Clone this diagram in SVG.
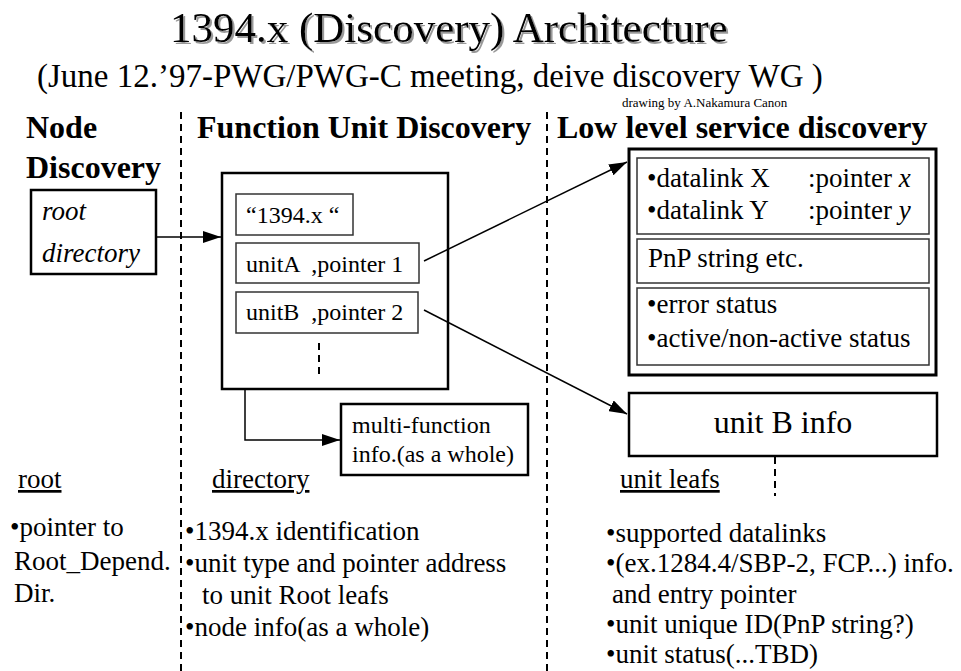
<svg xmlns="http://www.w3.org/2000/svg" width="961" height="671" viewBox="0 0 961 671">
<defs>
<marker id="ah" markerWidth="18" markerHeight="12" refX="18" refY="6" orient="auto" markerUnits="userSpaceOnUse">
<path d="M0,0 L18,6 L0,12 Z" fill="#000"/>
</marker>
<filter id="shadow" x="-5%" y="-20%" width="110%" height="150%">
<feOffset in="SourceAlpha" dx="2" dy="2" result="o"/>
<feFlood flood-color="#999"/>
<feComposite in2="o" operator="in" result="s"/>
<feMerge><feMergeNode in="s"/><feMergeNode in="SourceGraphic"/></feMerge>
</filter>
<style>
text{font-family:"Liberation Serif","Times New Roman",serif;fill:#000}
.t{font-size:43px}
.sub{font-size:33px}
.h{font-size:32px;font-weight:bold}
.b{font-size:27px}
.s{font-size:24px}
.i{font-style:italic}
.u{text-decoration:underline}
.box{fill:#fff;stroke:#000;stroke-width:2.5}
.in{fill:#fff;stroke:#333;stroke-width:1.5}
.dash{stroke:#000;stroke-width:2;stroke-dasharray:7 5;fill:none}
.c{stroke:#000;stroke-width:1.5;fill:none}
</style>
</defs>
<rect width="961" height="671" fill="#fff"/>
<g id="title">
<text class="t" x="170" y="42" filter="url(#shadow)">1394.x (Discovery) Architecture</text>
<text class="sub" x="37" y="87">(June 12.’97-PWG/PWG-C meeting, deive discovery WG )</text>
<text x="622" y="107" style="font-size:13px">drawing by A.Nakamura Canon</text>
</g>
<g id="headers">
<text class="h" x="26" y="138">Node</text>
<text class="h" x="26" y="178">Discovery</text>
<text class="h" x="197" y="138">Function Unit Discovery</text>
<text class="h" x="557" y="138">Low level service discovery</text>
</g>
<g id="separators">
<line class="dash" x1="181" y1="112" x2="181" y2="671"/>
<line class="dash" x1="547" y1="112" x2="547" y2="671"/>
</g>
<g id="root-directory">
<rect class="box" x="31" y="190" width="125" height="84"/>
<text class="b i" x="42" y="220">root</text>
<text class="b i" x="42" y="262">directory</text>
</g>
<g id="function-unit">
<rect class="box" x="222" y="173" width="226" height="216"/>
<g id="fu-1394">
<rect class="in" x="236" y="194" width="117" height="41"/>
<text class="s" x="246" y="223">“1394.x “</text>
</g>
<g id="fu-unitA">
<rect class="in" x="236" y="243" width="183" height="40"/>
<text class="s" x="246" y="272" xml:space="preserve">unitA  ,pointer 1</text>
</g>
<g id="fu-unitB">
<rect class="in" x="236" y="292" width="182" height="41"/>
<text class="s" x="246" y="320" xml:space="preserve">unitB  ,pointer 2</text>
</g>
<line class="dash" x1="319" y1="343" x2="319" y2="376"/>
</g>
<g id="multi-function">
<rect class="box" x="341" y="404" width="187" height="71"/>
<text class="s" x="352" y="433">multi-function</text>
<text class="s" x="352" y="462">info.(as a whole)</text>
</g>
<g id="low-level">
<rect x="629" y="149" width="307" height="226" fill="#fff" stroke="#000" stroke-width="3"/>
<rect class="in" x="637" y="158" width="292" height="76"/>
<text class="b" x="647" y="187">•datalink X</text>
<text class="b" x="808" y="187">:pointer <tspan class="i">x</tspan></text>
<text class="b" x="647" y="219">•datalink Y</text>
<text class="b" x="808" y="219">:pointer <tspan class="i">y</tspan></text>
<rect class="in" x="637" y="239" width="292" height="44"/>
<text class="b" x="648" y="267">PnP string etc.</text>
<rect class="in" x="637" y="288" width="292" height="77"/>
<text class="b" x="647" y="313">•error status</text>
<text class="b" x="647" y="347">•active/non-active status</text>
</g>
<g id="unit-b-info">
<rect class="box" x="629" y="393" width="308" height="63"/>
<text class="h" style="font-weight:normal" x="783" y="433" text-anchor="middle">unit B info</text>
<line class="dash" x1="775" y1="457" x2="775" y2="496"/>
</g>
<g id="connectors">
<line class="c" x1="156" y1="237" x2="221" y2="237" marker-end="url(#ah)"/>
<line class="c" x1="424" y1="261" x2="627" y2="162" marker-end="url(#ah)"/>
<line class="c" x1="424" y1="310" x2="627" y2="414" marker-end="url(#ah)"/>
<polyline class="c" points="245,389 245,440 340,440" marker-end="url(#ah)"/>
</g>
<g id="notes">
<text class="b u" x="18" y="488">root</text>
<text class="b" x="10" y="536">•pointer to</text>
<text class="b" x="14" y="570">Root_Depend.</text>
<text class="b" x="14" y="602">Dir.</text>
<text class="b u" x="212" y="488">directory</text>
<text class="b" x="185" y="540">•1394.x identification</text>
<text class="b" x="185" y="572">•unit type and pointer address</text>
<text class="b" x="202" y="604">to unit Root leafs</text>
<text class="b" x="185" y="636">•node info(as a whole)</text>
<text class="b u" x="620" y="488">unit leafs</text>
<text class="b" x="606" y="542">•supported datalinks</text>
<text class="b" x="606" y="572">•(ex.1284.4/SBP-2, FCP...) info.</text>
<text class="b" x="612" y="603">and entry pointer</text>
<text class="b" x="606" y="633">•unit unique ID(PnP string?)</text>
<text class="b" x="606" y="663">•unit status(...TBD)</text>
</g>
</svg>
